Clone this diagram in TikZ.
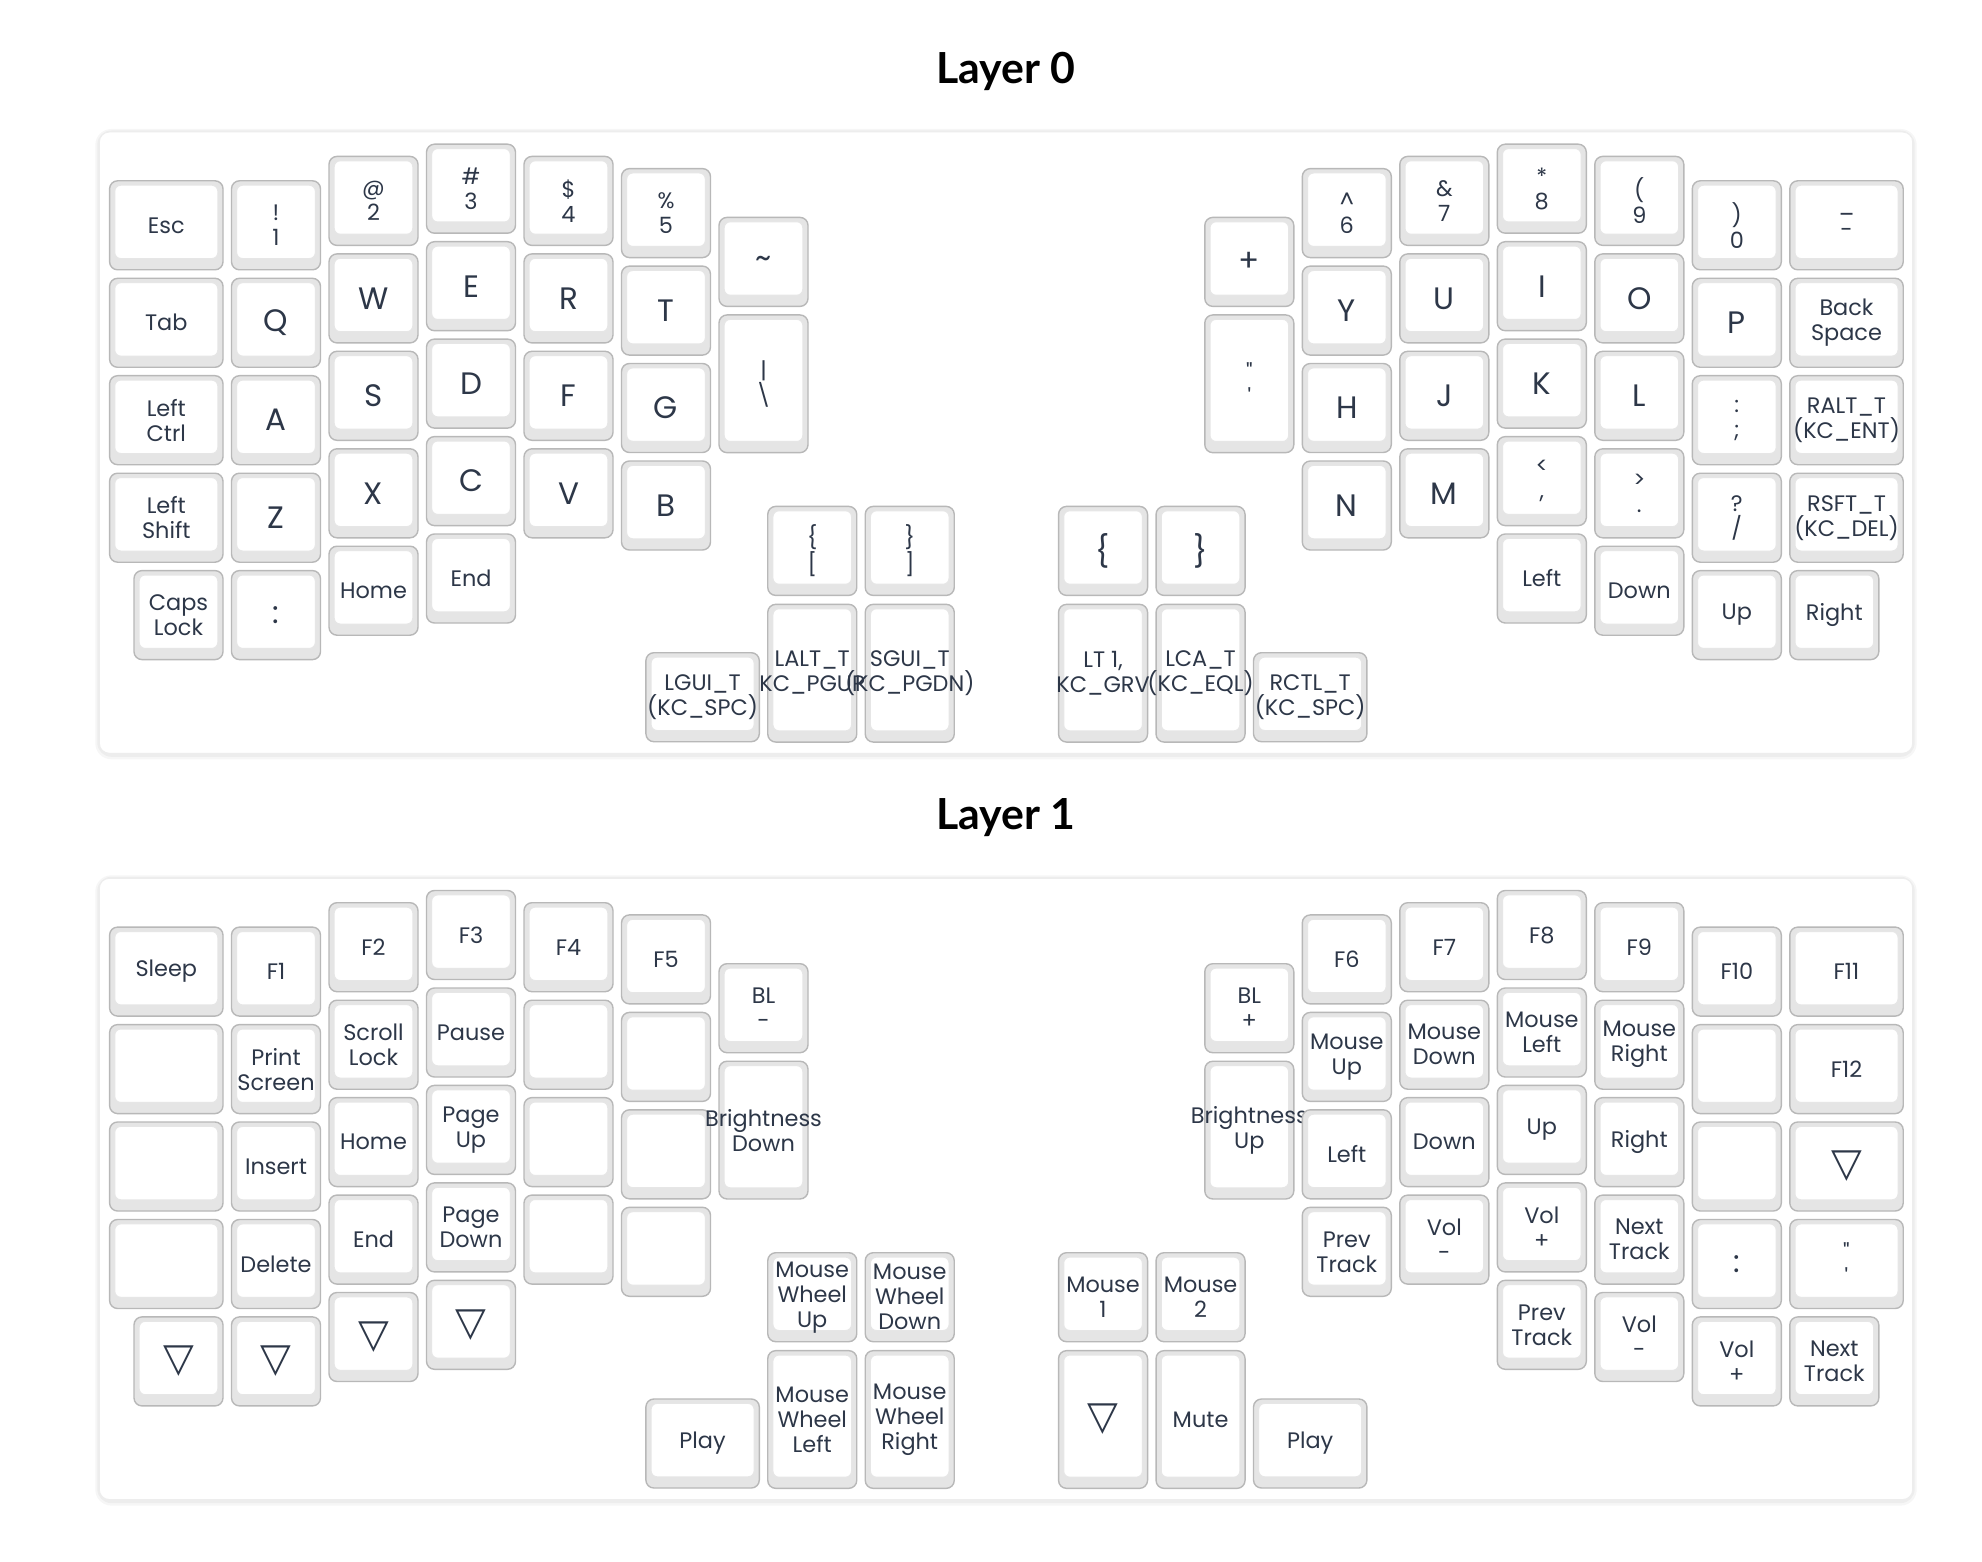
\documentclass[tikz,border=0pt]{standalone}
\usepackage{fontspec}
\setmainfont{Poppins}
\newfontfamily\titlefont{Lato}
\newfontfamily\symfont{DejaVu Sans}

\definecolor{keyedge}{HTML}{B8B8B8}
\definecolor{keyside}{HTML}{E5E5E5}
\definecolor{keyrim}{HTML}{E6E6E6}
\definecolor{keytext}{HTML}{2D3748}

\tikzset{%
  keycap/.style={draw=keyedge, line width=0.7pt, fill=keyside, rounded corners=4pt, minimum width=44.5pt, minimum height=44.5pt, inner xsep=-20pt, inner ysep=0pt, outer sep=0pt, align=center, text=keytext, font=\fontsize{11.2}{12.5}\selectfont,
    path picture={\draw[keyrim, line width=0.5pt, fill=white, rounded corners=3pt] ([xshift=2.6pt,yshift=-2.2pt]path picture bounding box.north west) rectangle ([xshift=-2.6pt,yshift=5.6pt]path picture bounding box.south east);}},
  wide/.style={keycap, minimum width=56.7pt},
  tall/.style={keycap, minimum height=68.85pt},
  big/.style={font=\fontsize{15.5}{17}\selectfont},
  tri/.style={font=\symfont\fontsize{20}{22}\selectfont},
  panel/.style={fill=white, draw=black!7, line width=0.5pt, rounded corners=5pt},
  layertitle/.style={font=\titlefont\bfseries\fontsize{21.4}{24}\selectfont, anchor=base},
  panelshade/.style={fill=black, opacity=0.035},
}

\begin{document}
\begin{tikzpicture}[x=0.5pt, y=-0.5pt]
\useasboundingbox (0,0) rectangle (1982,1562);

% ---- Layer 0 ----
\node[layertitle] (title0) at (1006,83.3) {Layer 0};
\fill[panelshade, rounded corners=8pt] (95.3,129) rectangle (1916.7,759.3);
\fill[panelshade, rounded corners=7pt] (97.3,130.5) rectangle (1914.7,756.8);
\path[panel] (99.3,132) rectangle (1912.7,753.3);

% left half
\node[wide] (esc) at (166.3,225.3) {Esc};
\node[wide] (tab) at (166.3,322.8) {Tab};
\node[wide] (lctrl) at (166.3,420.2) {Left\\Ctrl};
\node[wide] (lshift) at (166.3,517.7) {Left\\Shift};
\node[keycap] (caps) at (178.5,615.1) {Caps\\Lock};
\node[keycap] (one) at (276,225.3) {!\\1};
\node[keycap, big] (q) at (276,322.8) {Q};
\node[keycap, big] (a) at (276,420.2) {A};
\node[keycap, big] (z) at (276,517.7) {Z};
\node[keycap, big] (colon) at (276,615.1) {:};
\node[keycap] (two) at (373.5,200.9) {@\\2};
\node[keycap, big] (w) at (373.5,298.4) {W};
\node[keycap, big] (s) at (373.5,395.8) {S};
\node[keycap, big] (x) at (373.5,493.3) {X};
\node[keycap] (home) at (373.5,590.7) {Home};
\node[keycap] (three) at (471,188.7) {\#\\3};
\node[keycap, big] (e) at (471,286.2) {E};
\node[keycap, big] (d) at (471,383.6) {D};
\node[keycap, big] (c) at (471,481.1) {C};
\node[keycap] (end) at (471,578.5) {End};
\node[keycap] (four) at (568.5,200.9) {\$\\4};
\node[keycap, big] (r) at (568.5,298.4) {R};
\node[keycap, big] (f) at (568.5,395.8) {F};
\node[keycap, big] (v) at (568.5,493.3) {V};
\node[keycap] (five) at (666,213.1) {\%\\5};
\node[keycap, big] (t) at (666,310.6) {T};
\node[keycap, big] (g) at (666,408) {G};
\node[keycap, big] (b) at (666,505.5) {B};
\node[keycap, big] (tilde) at (763.5,261.9) {\textasciitilde};
\node[tall] (pipe) at (763.5,383.8) {|\\\textbackslash};
\node[keycap] (lbrack) at (812.25,550.9) {\{\\{}[};
\node[keycap] (rbrack) at (909.75,550.9) {\}\\]};
\node[tall] (lalt) at (812.25,673.2) {LALT\_T\\(KC\_PGUP)};
\node[tall] (sgui) at (909.75,673.2) {SGUI\_T\\(KC\_PGDN)};
\node[wide] (lgui) at (702.6,697.2) {LGUI\_T\\(KC\_SPC)};

% right half
\node[keycap, big] (plus) at (1249.3,261.9) {+};
\node[tall] (quote) at (1249.3,383.8) {\textquotedbl\\\textquotesingle};
\node[keycap] (six) at (1346.8,213.1) {\textasciicircum\\6};
\node[keycap, big] (y) at (1346.8,310.6) {Y};
\node[keycap, big] (h) at (1346.8,408) {H};
\node[keycap, big] (n) at (1346.8,505.5) {N};
\node[keycap] (seven) at (1444.3,200.9) {\&\\7};
\node[keycap, big] (u) at (1444.3,298.4) {U};
\node[keycap, big] (j) at (1444.3,395.8) {J};
\node[keycap, big] (m) at (1444.3,493.3) {M};
\node[keycap] (eight) at (1541.8,188.7) {*\\8};
\node[keycap, big] (i) at (1541.8,286.2) {I};
\node[keycap, big] (k) at (1541.8,383.6) {K};
\node[keycap] (comma) at (1541.8,481.1) {<\\,};
\node[keycap] (left) at (1541.8,578.5) {Left};
\node[keycap] (nine) at (1639.3,200.9) {(\\9};
\node[keycap, big] (o) at (1639.3,298.4) {O};
\node[keycap, big] (l) at (1639.3,395.8) {L};
\node[keycap] (dot) at (1639.3,493.3) {>\\.};
\node[keycap] (down) at (1639.3,590.7) {Down};
\node[keycap] (zero) at (1736.8,225.3) {)\\0};
\node[keycap, big] (p) at (1736.8,322.8) {P};
\node[keycap] (semi) at (1736.8,420.2) {:\\;};
\node[keycap] (slash) at (1736.8,517.7) {?\\/};
\node[keycap] (up) at (1736.8,615.1) {Up};
\node[wide] (minus) at (1846.5,225.3) {\_\\-};
\node[wide] (bspc) at (1846.5,322.8) {Back\\Space};
\node[wide] (ralt) at (1846.5,420.2) {RALT\_T\\(KC\_ENT)};
\node[wide] (rsft) at (1846.5,517.7) {RSFT\_T\\(KC\_DEL)};
\node[keycap] (right) at (1834.3,615.1) {Right};
\node[keycap, big] (lcbr) at (1103.05,550.9) {\{};
\node[keycap, big] (rcbr) at (1200.55,550.9) {\}};
\node[tall] (lt) at (1103.05,673.2) {LT 1,\\KC\_GRV};
\node[tall] (lca) at (1200.55,673.2) {LCA\_T\\(KC\_EQL)};
\node[wide] (rctl) at (1310.2,697.2) {RCTL\_T\\(KC\_SPC)};

% ---- Layer 1 ----
\begin{scope}[yshift=-373.15pt]
\node[layertitle] (title1) at (1006,83.3) {Layer 1};
\fill[panelshade, rounded corners=8pt] (95.3,129) rectangle (1916.7,759.3);
\fill[panelshade, rounded corners=7pt] (97.3,130.5) rectangle (1914.7,756.8);
\path[panel] (99.3,132) rectangle (1912.7,753.3);

% left half
\node[wide] (sleep) at (166.3,225.3) {Sleep};
\node[wide] (blank1) at (166.3,322.8) {};
\node[wide] (blank2) at (166.3,420.2) {};
\node[wide] (blank3) at (166.3,517.7) {};
\node[keycap, tri] (tri1) at (178.5,615.1) {▽};
\node[keycap] (f1) at (276,225.3) {F1};
\node[keycap] (prtsc) at (276,322.8) {Print\\Screen};
\node[keycap] (ins) at (276,420.2) {Insert};
\node[keycap] (del) at (276,517.7) {Delete};
\node[keycap, tri] (tri2) at (276,615.1) {▽};
\node[keycap] (f2) at (373.5,200.9) {F2};
\node[keycap] (scrl) at (373.5,298.4) {Scroll\\Lock};
\node[keycap] (home1) at (373.5,395.8) {Home};
\node[keycap] (end1) at (373.5,493.3) {End};
\node[keycap, tri] (tri3) at (373.5,590.7) {▽};
\node[keycap] (f3) at (471,188.7) {F3};
\node[keycap] (pause) at (471,286.2) {Pause};
\node[keycap] (pgup) at (471,383.6) {Page\\Up};
\node[keycap] (pgdn) at (471,481.1) {Page\\Down};
\node[keycap, tri] (tri4) at (471,578.5) {▽};
\node[keycap] (f4) at (568.5,200.9) {F4};
\node[keycap] (blank4) at (568.5,298.4) {};
\node[keycap] (blank5) at (568.5,395.8) {};
\node[keycap] (blank6) at (568.5,493.3) {};
\node[keycap] (f5) at (666,213.1) {F5};
\node[keycap] (blank7) at (666,310.6) {};
\node[keycap] (blank8) at (666,408) {};
\node[keycap] (blank9) at (666,505.5) {};
\node[keycap] (bldn) at (763.5,261.9) {BL\\-};
\node[tall] (brdn) at (763.5,383.8) {Brightness\\Down};
\node[keycap] (wup) at (812.25,550.9) {Mouse\\Wheel\\Up};
\node[keycap] (wdn) at (909.75,550.9) {Mouse\\Wheel\\Down};
\node[tall] (wlft) at (812.25,673.2) {Mouse\\Wheel\\Left};
\node[tall] (wrgt) at (909.75,673.2) {Mouse\\Wheel\\Right};
\node[wide] (play1) at (702.6,697.2) {Play};

% right half
\node[keycap] (blup) at (1249.3,261.9) {BL\\+};
\node[tall] (brup) at (1249.3,383.8) {Brightness\\Up};
\node[keycap] (f6) at (1346.8,213.1) {F6};
\node[keycap] (msup) at (1346.8,310.6) {Mouse\\Up};
\node[keycap] (mleft) at (1346.8,408) {Left};
\node[keycap] (prev1) at (1346.8,505.5) {Prev\\Track};
\node[keycap] (f7) at (1444.3,200.9) {F7};
\node[keycap] (msdn) at (1444.3,298.4) {Mouse\\Down};
\node[keycap] (mdown) at (1444.3,395.8) {Down};
\node[keycap] (voldn1) at (1444.3,493.3) {Vol\\-};
\node[keycap] (f8) at (1541.8,188.7) {F8};
\node[keycap] (msl) at (1541.8,286.2) {Mouse\\Left};
\node[keycap] (mup) at (1541.8,383.6) {Up};
\node[keycap] (volup1) at (1541.8,481.1) {Vol\\+};
\node[keycap] (prev2) at (1541.8,578.5) {Prev\\Track};
\node[keycap] (f9) at (1639.3,200.9) {F9};
\node[keycap] (msr) at (1639.3,298.4) {Mouse\\Right};
\node[keycap] (mright) at (1639.3,395.8) {Right};
\node[keycap] (next1) at (1639.3,493.3) {Next\\Track};
\node[keycap] (voldn2) at (1639.3,590.7) {Vol\\-};
\node[keycap] (f10) at (1736.8,225.3) {F10};
\node[keycap] (blank10) at (1736.8,322.8) {};
\node[keycap] (blank11) at (1736.8,420.2) {};
\node[keycap, big] (colon1) at (1736.8,517.7) {:};
\node[keycap] (volup2) at (1736.8,615.1) {Vol\\+};
\node[wide] (f11) at (1846.5,225.3) {F11};
\node[wide] (f12) at (1846.5,322.8) {F12};
\node[wide, tri] (tri5) at (1846.5,420.2) {▽};
\node[wide] (quote1) at (1846.5,517.7) {\textquotedbl\\\textquotesingle};
\node[keycap] (next2) at (1834.3,615.1) {Next\\Track};
\node[keycap] (ms1) at (1103.05,550.9) {Mouse\\1};
\node[keycap] (ms2) at (1200.55,550.9) {Mouse\\2};
\node[tall, tri] (tri6) at (1103.05,673.2) {▽};
\node[tall] (mute) at (1200.55,673.2) {Mute};
\node[wide] (play2) at (1310.2,697.2) {Play};
\end{scope}
\end{tikzpicture}
\end{document}
